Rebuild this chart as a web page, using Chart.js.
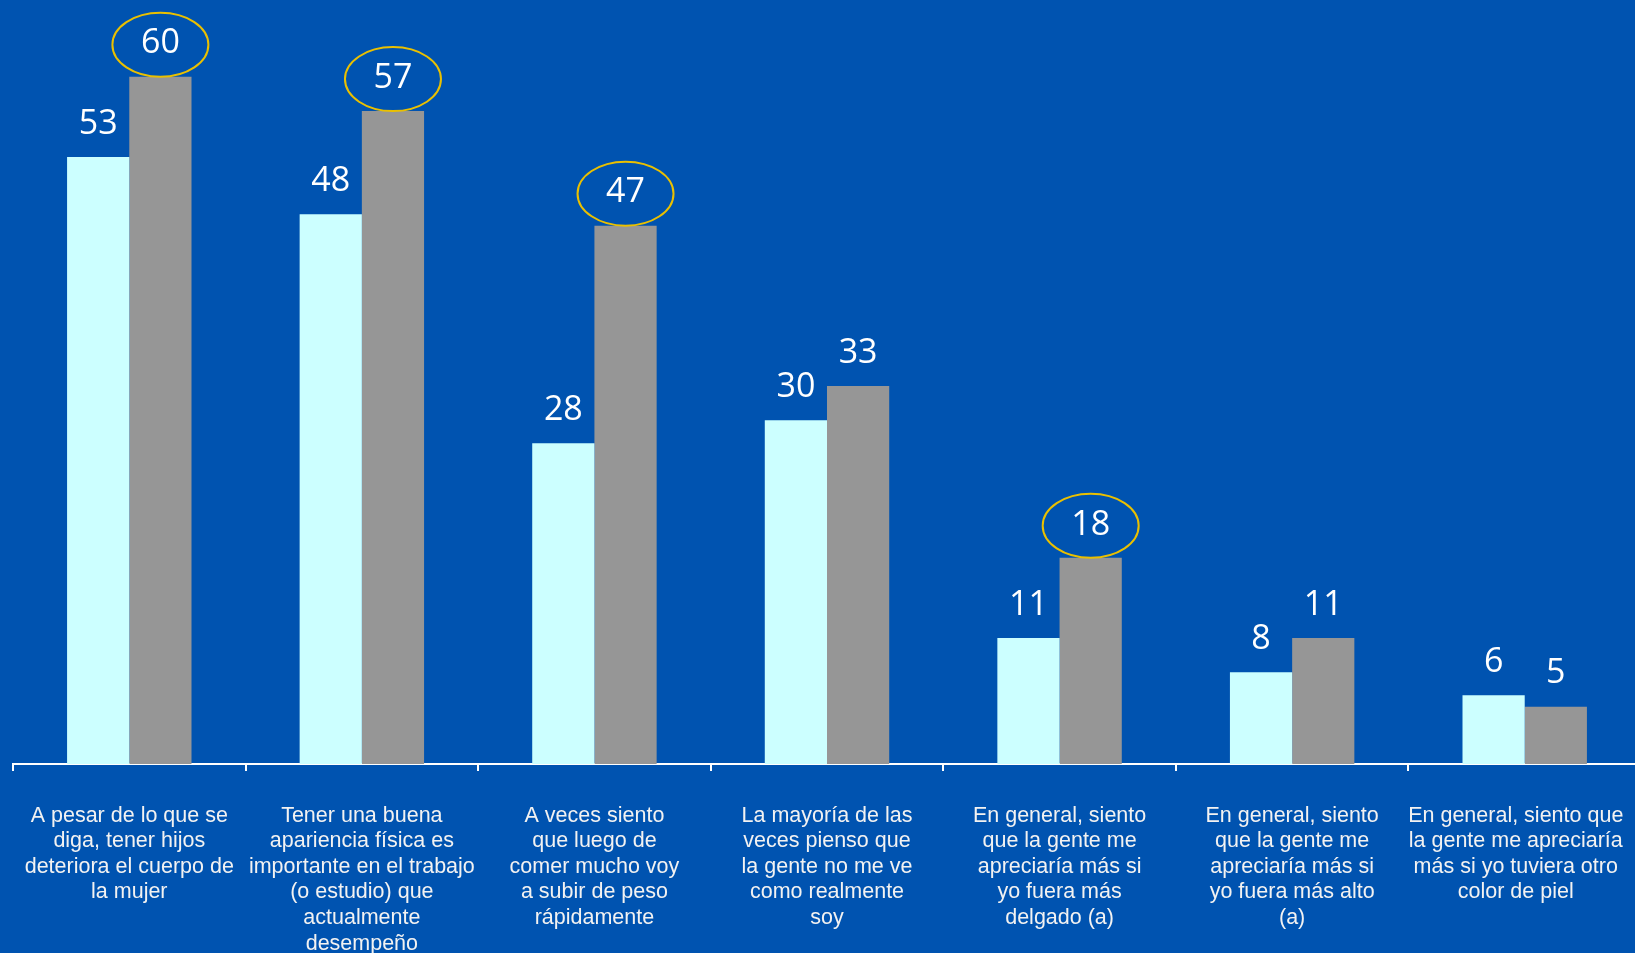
<!DOCTYPE html>
<html>
<head>
<meta charset="utf-8">
<script src="https://cdn.jsdelivr.net/npm/chart.js@4/dist/chart.umd.min.js"></script>
<style>
  html, body { margin: 0; padding: 0; background: #0053B0; overflow: hidden; width: 1635px; height: 953px; }
  canvas { display: block; }
</style>
</head>
<body>
<canvas id="c" width="1641" height="953"></canvas>
<script>
const categories = [
  ["A pesar de lo que se", "diga, tener hijos", "deteriora el cuerpo de", "la mujer"],
  ["Tener una buena", "apariencia física es", "importante en el trabajo", "(o estudio) que", "actualmente", "desempeño"],
  ["A veces siento", "que luego de", "comer mucho voy", "a subir de peso", "rápidamente"],
  ["La mayoría de las", "veces pienso que", "la gente no me ve", "como realmente", "soy"],
  ["En general, siento", "que la gente me", "apreciaría más si", "yo fuera más", "delgado (a)"],
  ["En general, siento", "que la gente me", "apreciaría más si", "yo fuera más alto", "(a)"],
  ["En general, siento que   ", "la gente me apreciaría   ", "más si yo tuviera otro   ", "color de piel   "]
];
const seriesA = [53, 48, 28, 30, 11, 8, 6];
const seriesB = [60, 57, 47, 33, 18, 11, 5];
const circledB = [true, true, true, false, true, false, false];

const labelPlugin = {
  id: 'valueLabels',
  afterDatasetsDraw(chart) {
    const ctx = chart.ctx;
    ctx.save();
    ctx.font = '34px "Open Sans", sans-serif';
    ctx.fillStyle = '#ffffff';
    ctx.textAlign = 'center';
    ctx.textBaseline = 'middle';
    chart.data.datasets.forEach((ds, di) => {
      const meta = chart.getDatasetMeta(di);
      meta.data.forEach((bar, i) => {
        const cx = bar.x, cy = bar.y - 33;
        ctx.fillText(String(ds.data[i]), cx, cy);
        if (di === 1 && circledB[i]) {
          ctx.beginPath();
          ctx.ellipse(cx, cy + 1, 48, 32, 0, 0, Math.PI * 2);
          ctx.strokeStyle = '#EAC000';
          ctx.lineWidth = 2;
          ctx.stroke();
        }
      });
    });
    ctx.restore();
  }
};

new Chart(document.getElementById('c'), {
  type: 'bar',
  data: {
    labels: categories,
    datasets: [
      { data: seriesA, backgroundColor: '#CCFFFF', borderWidth: 0 },
      { data: seriesB, backgroundColor: '#969696', borderWidth: 0 }
    ]
  },
  options: {
    responsive: false,
    animation: false,
    devicePixelRatio: 1,
    layout: { padding: { left: 13, right: 0, top: 0, bottom: 0 } },
    datasets: { bar: { barPercentage: 1, categoryPercentage: 0.535 } },
    plugins: { legend: { display: false }, tooltip: { enabled: false } },
    scales: {
      x: {
        afterFit(s) { s.height = 189; s.paddingLeft = 0; s.paddingRight = 0; },
        grid: { display: true, drawOnChartArea: false, drawTicks: true, tickLength: 7, color: '#ffffff', lineWidth: 2, offset: true },
        border: { display: true, color: '#ffffff', width: 2 },
        ticks: {
          color: '#f2f2f2',
          font: { family: '"Liberation Sans", Arial, sans-serif', size: 21.5, lineHeight: 1.19 },
          maxRotation: 0, minRotation: 0, autoSkip: false, padding: 32
        }
      },
      y: {
        display: false,
        min: 0,
        max: 66.7
      }
    }
  },
  plugins: [labelPlugin]
});
</script>
</body>
</html>
